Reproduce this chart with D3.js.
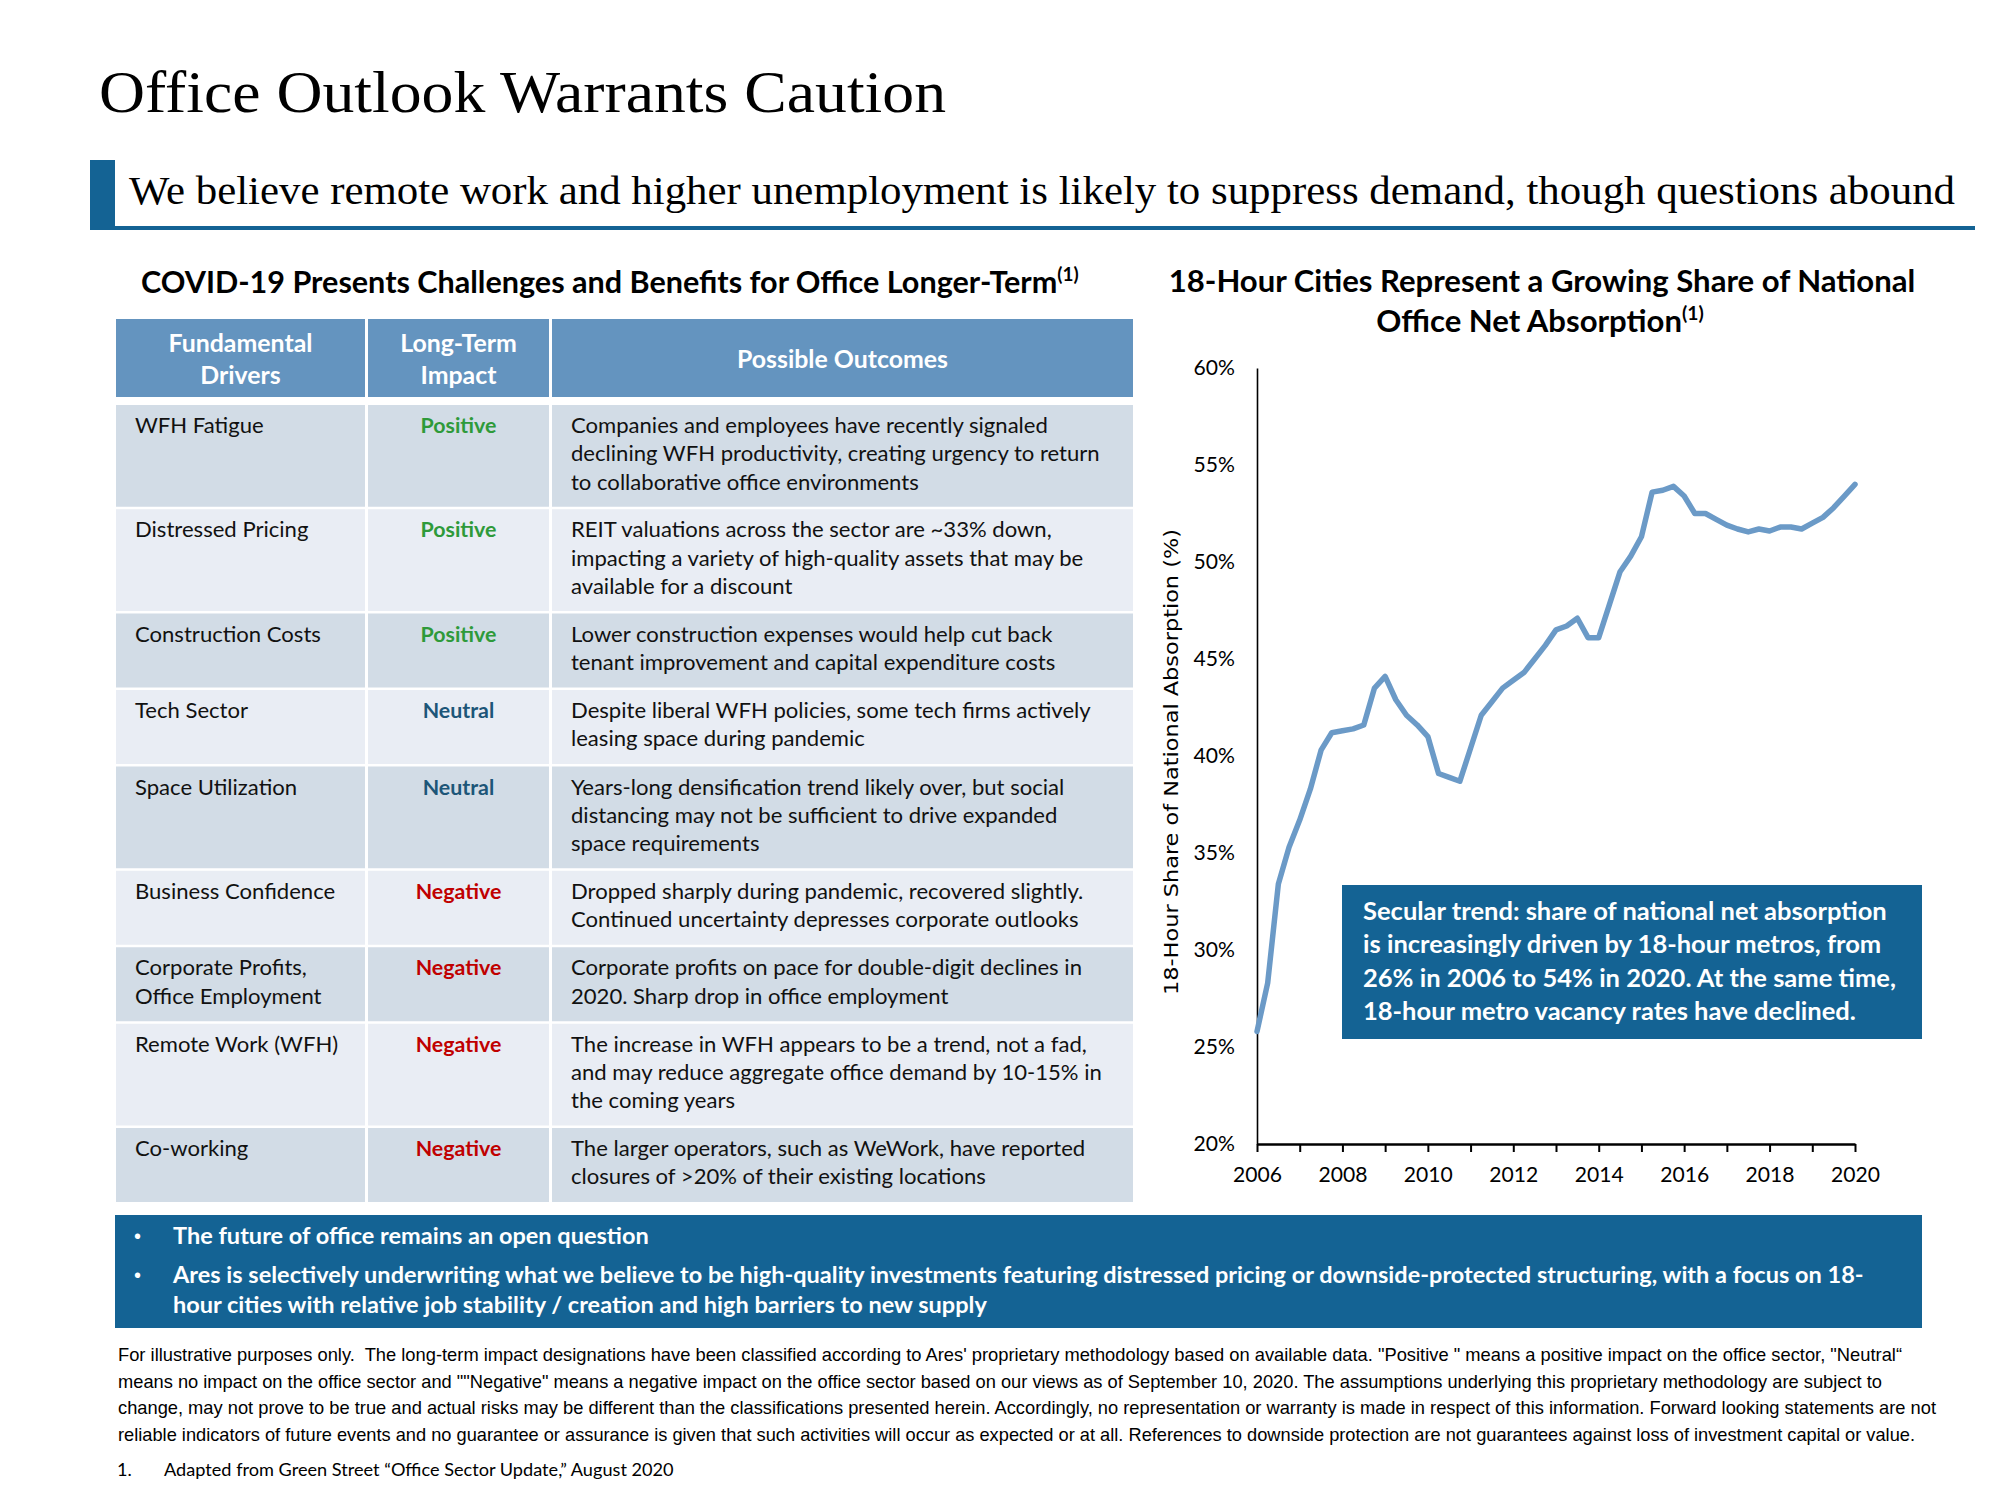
<!DOCTYPE html>
<html><head><meta charset="utf-8">
<script src="https://cdn.jsdelivr.net/npm/d3@7"></script>
<style>body{margin:0;background:#fff}</style>
</head><body>
<svg id="c" width="2000" height="1500"></svg>
<script>
// ---------------- DATA ----------------
const pageTitle = "Office Outlook Warrants Caution";
const subTitle = "We believe remote work and higher unemployment is likely to suppress demand, though questions abound";
const tableTitle = "COVID-19 Presents Challenges and Benefits for Office Longer-Term";
const tableHeaders = [["Fundamental", "Drivers"], ["Long-Term", "Impact"], ["Possible Outcomes"]];
const drivers = [["WFH Fatigue"], ["Distressed Pricing"], ["Construction Costs"], ["Tech Sector"], ["Space Utilization"],
  ["Business Confidence"], ["Corporate Profits,", "Office Employment"], ["Remote Work (WFH)"], ["Co-working"]];
const impacts = ["Positive", "Positive", "Positive", "Neutral", "Neutral", "Negative", "Negative", "Negative", "Negative"];
const outcomes = [
  ["Companies and employees have recently signaled", "declining WFH productivity, creating urgency to return", "to collaborative office environments"],
  ["REIT valuations across the sector are ~33% down,", "impacting a variety of high-quality assets that may be", "available for a discount"],
  ["Lower construction expenses would help cut back", "tenant improvement and capital expenditure costs"],
  ["Despite liberal WFH policies, some tech firms actively", "leasing space during pandemic"],
  ["Years-long densification trend likely over, but social", "distancing may not be sufficient to drive expanded", "space requirements"],
  ["Dropped sharply during pandemic, recovered slightly.", "Continued uncertainty depresses corporate outlooks"],
  ["Corporate profits on pace for double-digit declines in", "2020. Sharp drop in office employment"],
  ["The increase in WFH appears to be a trend, not a fad,", "and may reduce aggregate office demand by 10-15% in", "the coming years"],
  ["The larger operators, such as WeWork, have reported", "closures of >20% of their existing locations"]
];
const chartTitleLines = ["18-Hour Cities Represent a Growing Share of National", "Office Net Absorption"];
const yAxisTitle = "18-Hour Share of National Absorption (%)";
// quarterly observations, 2006 Q1 .. 2020 Q1
const quarterYears = [2006, 2006.25, 2006.5, 2006.75, 2007, 2007.25, 2007.5, 2007.75, 2008, 2008.25, 2008.5, 2008.75,
  2009, 2009.25, 2009.5, 2009.75, 2010, 2010.25, 2010.5, 2010.75, 2011, 2011.25, 2011.5, 2011.75,
  2012, 2012.25, 2012.5, 2012.75, 2013, 2013.25, 2013.5, 2013.75, 2014, 2014.25, 2014.5, 2014.75,
  2015, 2015.25, 2015.5, 2015.75, 2016, 2016.25, 2016.5, 2016.75, 2017, 2017.25, 2017.5, 2017.75,
  2018, 2018.25, 2018.5, 2018.75, 2019, 2019.25, 2019.5, 2019.75, 2020];
const shareValues = [25.8, 28.3, 33.4, 35.3, 36.7, 38.3, 40.3, 41.2, 41.3, 41.4, 41.6, 43.5,
  44.1, 42.9, 42.1, 41.6, 41.0, 39.1, 38.9, 38.7, 40.4, 42.1, 42.8, 43.5,
  43.9, 44.3, 45.0, 45.7, 46.5, 46.7, 47.1, 46.1, 46.1, 47.8, 49.5, 50.3,
  51.3, 53.6, 53.7, 53.9, 53.4, 52.5, 52.5, 52.2, 51.9, 51.7, 51.55, 51.7,
  51.6, 51.8, 51.8, 51.7, 52.0, 52.3, 52.8, 53.4, 54.0];
const xTickYears = [2006, 2007, 2008, 2009, 2010, 2011, 2012, 2013, 2014, 2015, 2016, 2017, 2018, 2019, 2020];
const yTicks = [20, 25, 30, 35, 40, 45, 50, 55, 60];
const annotationLines = ["Secular trend: share of national net absorption", "is increasingly driven by 18-hour metros, from",
  "26% in 2006 to 54% in 2020. At the same time,", "18-hour metro vacancy rates have declined."];
const bulletItems = [["The future of office remains an open question"],
  ["Ares is selectively underwriting what we believe to be high-quality investments featuring distressed pricing or downside-protected structuring, with a focus on 18-",
   "hour cities with relative job stability / creation and high barriers to new supply"]];
const disclaimerLines = [
  "For illustrative purposes only.  The long-term impact designations have been classified according to Ares' proprietary methodology based on available data. \"Positive \" means a positive impact on the office sector, \"Neutral\u201C",
  "means no impact on the office sector and \"\"Negative\" means a negative impact on the office sector based on our views as of September 10, 2020. The assumptions underlying this proprietary methodology are subject to",
  "change, may not prove to be true and actual risks may be different than the classifications presented herein. Accordingly, no representation or warranty is made in respect of this information. Forward looking statements are not",
  "reliable indicators of future events and no guarantee or assurance is given that such activities will occur as expected or at all. References to downside protection are not guarantees against loss of investment capital or value."];
const sourceNote = "Adapted from Green Street \u201COffice Sector Update,\u201D August 2020";

// ---------------- STYLE ----------------
const SANS = "Lato, 'Open Sans', sans-serif";
const SERIF = "'Liberation Serif', 'DejaVu Serif', serif";
const NARROW = "'Liberation Sans', Arial, sans-serif";
const DARKBLUE = "#146394";
const HEADBLUE = "#6494BF";
const ROWDARK = "#D2DCE6", ROWLIGHT = "#E9EDF4";
const impactColor = {Positive: "#2E9A3A", Neutral: "#1D5678", Negative: "#C00000"};

const svg = d3.select("#c");
svg.append("rect").attr("width", 2000).attr("height", 1500).attr("fill", "#fff");

const measurer = svg.append("text").attr("visibility", "hidden");
function textWidth(str, size, weight, family) {
  measurer.attr("font-size", size).attr("font-weight", weight).attr("font-family", family).text(str);
  return measurer.node().getComputedTextLength();
}
function fitSize(str, target, weight, family) { return 20 * target / textWidth(str, 20, weight, family || SANS); }

// ---------------- HEADER ----------------
svg.append("text").attr("x", 99).attr("y", 112).attr("font-family", SERIF).attr("font-size", 60)
  .attr("textLength", 847).attr("lengthAdjust", "spacingAndGlyphs").attr("fill", "#000").text(pageTitle);
svg.append("rect").attr("x", 90).attr("y", 160).attr("width", 25).attr("height", 69).attr("fill", DARKBLUE);
svg.append("rect").attr("x", 90).attr("y", 226).attr("width", 1885).attr("height", 4).attr("fill", DARKBLUE);
svg.append("text").attr("x", 129).attr("y", 204).attr("font-family", SERIF).attr("font-size", 40)
  .attr("textLength", 1826).attr("lengthAdjust", "spacingAndGlyphs").attr("fill", "#000").text(subTitle);

// ---------------- TABLE ----------------
const ttSize = fitSize(tableTitle, 917, 700);
const tt = svg.append("text").attr("x", 141).attr("y", 293).attr("font-family", SANS).attr("font-weight", 700)
  .attr("font-size", ttSize).attr("fill", "#000");
tt.append("tspan").text(tableTitle);
tt.append("tspan").attr("font-size", ttSize * 0.62).attr("dy", -ttSize * 0.4).text("(1)");

const colX = [116, 368, 552], colW = [249, 181, 581];
const headSize = fitSize("Fundamental", 144, 700);
const bodySize = fitSize(outcomes[0][0], 477, 400);
const impSize = fitSize("Positive", 76, 700);

const headG = svg.append("g");
tableHeaders.forEach((lines, ci) => {
  headG.append("rect").attr("x", colX[ci]).attr("y", 319).attr("width", colW[ci]).attr("height", 78).attr("fill", HEADBLUE);
  const cx = colX[ci] + colW[ci] / 2;
  lines.forEach((ln, li) => {
    const yb = lines.length === 1 ? 368 : 352 + li * 32;
    headG.append("text").attr("x", cx).attr("y", yb).attr("text-anchor", "middle").attr("font-family", SANS)
      .attr("font-weight", 700).attr("font-size", headSize).attr("fill", "#fff").text(ln);
  });
});

let rowTop = 405;
const lineH = 28.3;
drivers.forEach((drv, ri) => {
  const nLines = Math.max(drv.length, outcomes[ri].length);
  const h = nLines === 3 ? 101.75 : 74;
  const fill = ri % 2 === 0 ? ROWDARK : ROWLIGHT;
  const g = svg.append("g");
  colX.forEach((x0, ci) => g.append("rect").attr("x", x0).attr("y", rowTop).attr("width", colW[ci]).attr("height", h).attr("fill", fill));
  const base = rowTop + 28;
  drv.forEach((ln, li) => g.append("text").attr("x", 135).attr("y", base + li * lineH).attr("font-family", SANS)
    .attr("font-size", bodySize).attr("fill", "#111").text(ln));
  g.append("text").attr("x", colX[1] + colW[1] / 2).attr("y", base).attr("text-anchor", "middle").attr("font-family", SANS)
    .attr("font-weight", 700).attr("font-size", impSize).attr("fill", impactColor[impacts[ri]]).text(impacts[ri]);
  outcomes[ri].forEach((ln, li) => g.append("text").attr("x", 571).attr("y", base + li * lineH).attr("font-family", SANS)
    .attr("font-size", bodySize).attr("fill", "#111").text(ln));
  rowTop += h + 2.5;
});

// ---------------- LINE CHART ----------------
const x = d3.scaleLinear().domain([2006, 2020]).range([1257, 1855]);
const y = d3.scaleLinear().domain([20, 60]).range([1144, 368]);

const ctSize = fitSize(chartTitleLines[0], 747, 700);
svg.append("text").attr("x", 1542).attr("y", 292).attr("text-anchor", "middle").attr("font-family", SANS)
  .attr("font-weight", 700).attr("font-size", ctSize).attr("fill", "#000").text(chartTitleLines[0]);
const ct2 = svg.append("text").attr("x", 1540).attr("y", 332).attr("text-anchor", "middle").attr("font-family", SANS)
  .attr("font-weight", 700).attr("font-size", ctSize).attr("fill", "#000");
ct2.append("tspan").text(chartTitleLines[1]);
ct2.append("tspan").attr("font-size", ctSize * 0.62).attr("dy", -ctSize * 0.4).text("(1)");

const tickFont = fitSize("2008", 49, 400);

const yAxisG = svg.append("g").attr("transform", `translate(${x(2006)},0)`)
  .call(d3.axisLeft(y).tickValues(yTicks).tickSize(0).tickSizeOuter(0).tickPadding(22).tickFormat(d => d + "%"));
yAxisG.select(".domain").attr("stroke", "#000").attr("stroke-width", 1.6);
yAxisG.selectAll("text").attr("font-family", SANS).attr("font-size", tickFont).attr("fill", "#000");

const xAxisG = svg.append("g").attr("transform", `translate(0,${y(20)})`)
  .call(d3.axisBottom(x).tickValues(xTickYears).tickSize(8).tickSizeOuter(0).tickPadding(15)
    .tickFormat(d => d % 2 === 0 ? String(d) : ""));
xAxisG.select(".domain").attr("stroke", "#000").attr("stroke-width", 2.5);
xAxisG.selectAll(".tick line").attr("stroke", "#000").attr("stroke-width", 2);
xAxisG.selectAll("text").attr("font-family", SANS).attr("font-size", tickFont).attr("fill", "#000");

svg.append("text").attr("transform", "translate(1178,762) rotate(-90)").attr("text-anchor", "middle")
  .attr("font-family", "'DejaVu Sans', Verdana, sans-serif").attr("font-size", 20)
  .attr("textLength", 466).attr("lengthAdjust", "spacingAndGlyphs").attr("fill", "#000").text(yAxisTitle);

const series = quarterYears.map((t, i) => ({t, v: shareValues[i]}));
svg.append("path").datum(series).attr("fill", "none").attr("stroke", "#6B9AC7").attr("stroke-width", 5.5)
  .attr("stroke-linejoin", "round").attr("stroke-linecap", "round")
  .attr("d", d3.line().x(d => x(d.t)).y(d => y(d.v)));

// annotation box
svg.append("rect").attr("x", 1342).attr("y", 885).attr("width", 580).attr("height", 154).attr("fill", DARKBLUE);
const annSize = fitSize(annotationLines[2], 533, 700);
annotationLines.forEach((ln, i) => svg.append("text").attr("x", 1363).attr("y", 920 + i * 33.4)
  .attr("font-family", SANS).attr("font-weight", 700).attr("font-size", annSize).attr("fill", "#fff").text(ln));

// ---------------- BOTTOM BOX ----------------
svg.append("rect").attr("x", 115).attr("y", 1215).attr("width", 1807).attr("height", 113).attr("fill", DARKBLUE);
const bulSize = fitSize(bulletItems[1][0], 1691, 700);
const bulletBaselines = [[1244], [1283, 1313]];
bulletItems.forEach((item, bi) => {
  svg.append("text").attr("x", 134).attr("y", bulletBaselines[bi][0] - 1).attr("font-family", "'Liberation Sans', sans-serif")
    .attr("font-size", bulSize * 0.85).attr("fill", "#fff").text("\u2022");
  item.forEach((ln, li) => svg.append("text").attr("x", 173).attr("y", bulletBaselines[bi][li])
    .attr("font-family", SANS).attr("font-weight", 700).attr("font-size", bulSize).attr("fill", "#fff").text(ln));
});

// ---------------- DISCLAIMER ----------------
const discWidths = [1784, 1764, 1818, 1797];
disclaimerLines.forEach((ln, i) => svg.append("text").attr("x", 118).attr("y", 1361 + i * 26.5)
  .attr("font-family", NARROW).attr("font-size", 18.5).attr("textLength", discWidths[i])
  .attr("lengthAdjust", "spacingAndGlyphs").attr("fill", "#000").attr("xml:space", "preserve").text(ln));

const srcSize = fitSize(sourceNote, 510, 400);
svg.append("text").attr("x", 117).attr("y", 1476).attr("font-family", SANS).attr("font-size", srcSize).attr("fill", "#000").text("1.");
svg.append("text").attr("x", 164).attr("y", 1476).attr("font-family", SANS).attr("font-size", srcSize).attr("fill", "#000").text(sourceNote);

measurer.remove();
</script>
</body></html>
